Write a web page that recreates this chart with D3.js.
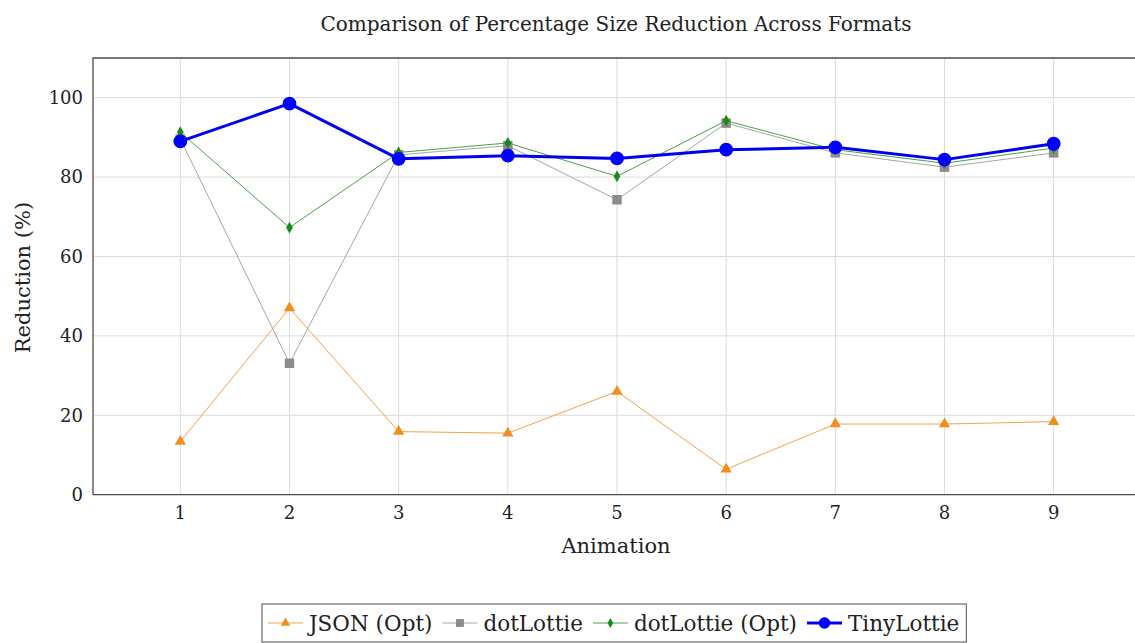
<!DOCTYPE html>
<html>
<head>
<meta charset="utf-8">
<script src="https://cdn.jsdelivr.net/npm/d3@7"></script>
<style>
  body { margin: 0; background: #fff; }
  svg { display: block; font-family: "DejaVu Serif", "Liberation Serif", serif; }
  .grid line { stroke: #dcdcdc; stroke-width: 1; }
  .frame { stroke: #4d4d4d; stroke-width: 1.3; fill: none; }
  .tick-label { font-size: 18px; fill: #222; }
  .title { font-size: 20px; fill: #222; text-anchor: middle; }
  .axis-label { font-size: 21px; fill: #222; text-anchor: middle; }
  .legend text { font-size: 21.5px; fill: #222; }
</style>
</head>
<body>
<svg width="1135" height="643"></svg>
<script>
var animations = [1, 2, 3, 4, 5, 6, 7, 8, 9];
var jsonOpt = [13.4, 47.0, 15.9, 15.5, 26.0, 6.4, 17.8, 17.8, 18.4];
var dotLottie = [89.6, 33.1, 85.6, 87.9, 74.3, 93.6, 86.1, 82.5, 86.1];
var dotLottieOpt = [91.3, 67.3, 86.2, 88.6, 80.2, 94.2, 86.9, 83.5, 87.3];
var tinyLottie = [89.0, 98.5, 84.6, 85.4, 84.7, 86.9, 87.5, 84.4, 88.4];
var yTicks = [0, 20, 40, 60, 80, 100];

var series = [
    {name: "JSON (Opt)", values: jsonOpt, color: "#f28e1c", lineColor: "#f5a24c", width: 1, marker: d3.symbolTriangle, size: 55},
    {name: "dotLottie", values: dotLottie, color: "#8c8c8c", lineColor: "#a6a6a6", width: 1, marker: d3.symbolSquare, size: 90},
    {name: "dotLottie (Opt)", values: dotLottieOpt, color: "#1a8a1a", lineColor: "#4aa24a", width: 1, marker: d3.symbolDiamond, size: 40},
    {name: "TinyLottie", values: tinyLottie, color: "#0000ff", lineColor: "#0000ee", width: 3, marker: d3.symbolCircle, size: 150}
];

var svg = d3.select("svg"),
    margin = {top: 58, left: 93},
    plotRight = 1141,
    plotBottom = 494.7;

var x = d3.scaleLinear().domain([0.2, 9.8]).range([margin.left, plotRight]);
var y = d3.scaleLinear().domain([0, 110]).range([plotBottom, margin.top]);

// Grid
var grid = svg.append("g").attr("class", "grid");
grid.selectAll(".vg").data(animations).enter().append("line")
    .attr("x1", function(d) { return x(d); })
    .attr("x2", function(d) { return x(d); })
    .attr("y1", y(110))
    .attr("y2", y(0));
grid.selectAll(".hg").data(yTicks).enter().append("line")
    .attr("x1", x(0.2))
    .attr("x2", plotRight)
    .attr("y1", function(d) { return y(d); })
    .attr("y2", function(d) { return y(d); });

// Frame (right side falls outside the picture)
svg.append("path")
    .attr("class", "frame")
    .attr("d", "M" + plotRight + "," + y(110) + "H" + x(0.2) + "V" + y(0) + "H" + plotRight);

// Tick labels
svg.selectAll(".xt").data(animations).enter().append("text")
    .attr("class", "tick-label")
    .attr("x", function(d) { return x(d); })
    .attr("y", plotBottom + 24)
    .attr("text-anchor", "middle")
    .text(function(d) { return d; });
svg.selectAll(".yt").data(yTicks).enter().append("text")
    .attr("class", "tick-label")
    .attr("x", x(0.2) - 10)
    .attr("y", function(d) { return y(d); })
    .attr("dy", "0.35em")
    .attr("text-anchor", "end")
    .text(function(d) { return d; });

// Titles
svg.append("text").attr("class", "title").attr("x", 616).attr("y", 31)
    .text("Comparison of Percentage Size Reduction Across Formats");
svg.append("text").attr("class", "axis-label").attr("x", 616).attr("y", 553).text("Animation");
svg.append("text").attr("class", "axis-label")
    .attr("transform", "translate(30," + y(54.7) + ") rotate(-90)")
    .text("Reduction (%)");

// Lines and markers
var line = d3.line()
    .x(function(d, i) { return x(animations[i]); })
    .y(function(d) { return y(d); });

series.forEach(function(s) {
    svg.append("path")
        .datum(s.values)
        .attr("fill", "none")
        .attr("stroke", s.lineColor)
        .attr("stroke-width", s.width)
        .attr("stroke-linejoin", "round")
        .attr("d", line);
    svg.selectAll(null).data(s.values).enter().append("path")
        .attr("d", d3.symbol().type(s.marker).size(s.size))
        .attr("fill", s.color)
        .attr("transform", function(d, i) { return "translate(" + x(animations[i]) + "," + y(d) + ")"; });
});

// Legend
var legend = svg.append("g").attr("class", "legend");
var legendBox = legend.append("rect")
    .attr("fill", "#fff")
    .attr("stroke", "#4d4d4d")
    .attr("stroke-width", 1);
var lx = 268, ly = 623;
series.forEach(function(s) {
    legend.append("line")
        .attr("x1", lx).attr("x2", lx + 35)
        .attr("y1", ly).attr("y2", ly)
        .attr("stroke", s.lineColor)
        .attr("stroke-width", s.width);
    legend.append("path")
        .attr("d", d3.symbol().type(s.marker).size(s.size * 0.7))
        .attr("fill", s.color)
        .attr("transform", "translate(" + (lx + 17.5) + "," + ly + ")");
    var t = legend.append("text")
        .attr("x", lx + 41)
        .attr("y", ly)
        .attr("dy", "0.35em")
        .text(s.name);
    lx += 41 + t.node().getComputedTextLength() + 10;
});
legendBox
    .attr("x", 262)
    .attr("y", 604)
    .attr("width", lx - 262 - 3)
    .attr("height", 38);
</script>
</body>
</html>
